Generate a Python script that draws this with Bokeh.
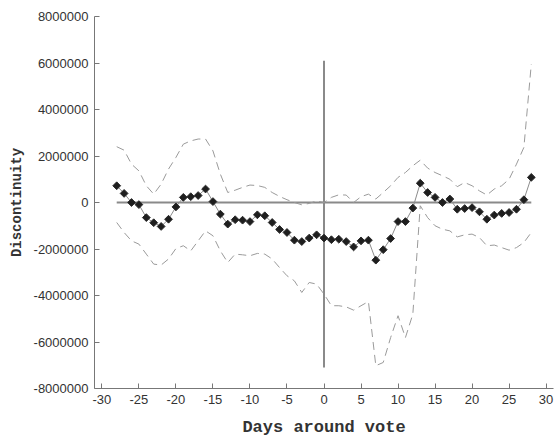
import math
from bokeh.plotting import figure
from bokeh.models import Range1d, FixedTicker, PrintfTickFormatter
from bokeh.embed import file_html
from bokeh.resources import INLINE

days = list(range(-28, 29))
estimate = [720000, 390000, 0, -90000, -650000, -870000, -1030000, -720000, -190000, 220000,
            250000, 300000, 580000, 40000, -500000, -930000, -740000, -760000, -820000, -530000,
            -570000, -860000, -1160000, -1290000, -1620000, -1680000, -1530000, -1390000,
            -1530000,
            -1600000, -1580000, -1680000, -1910000, -1650000, -1620000, -2480000, -2030000, -1550000, -820000,
            -820000, -240000, 830000, 430000, 220000, 0, 150000, -290000, -260000, -220000,
            -400000, -720000, -540000, -470000, -430000, -290000, 120000, 1080000]
upper = [2400000, 2250000, 1650000, 1360000, 720000, 360000, 790000, 1440000, 1940000, 2510000,
         2650000, 2730000, 2730000, 2220000, 1220000, 430000, 530000, 650000, 750000, 730000,
         650000, 430000, 260000, 120000, 0, -100000, -40000, 70000,
         0,
         220000, 330000, 320000, 0, 250000, 360000, 150000, 430000, 720000, 1080000,
         1290000, 1580000, 1820000, 1480000, 1290000, 1150000, 1000000, 680000, 860000, 720000,
         500000, 320000, 580000, 720000, 1000000, 1650000, 2370000, 5950000]
lower = [-860000, -1290000, -1650000, -1790000, -2220000, -2650000, -2690000, -2430000, -1980000, -1860000,
         -2080000, -1650000, -1220000, -1430000, -2080000, -2580000, -2220000, -2250000, -2290000, -2190000,
         -2220000, -2430000, -2800000, -3150000, -3370000, -3870000, -3440000, -3510000,
         -3940000,
         -4440000, -4440000, -4490000, -4630000, -4440000, -4260000, -7020000, -6880000, -5810000, -4870000,
         -5810000, -4800000, -140000, -650000, -1000000, -1150000, -1220000, -1480000, -1390000, -1360000,
         -1510000, -1860000, -1830000, -1940000, -2050000, -1940000, -1720000, -1290000]

zero_line_x = [-28, 28]
zero_line_y = [0, 0]
vote_line_x = [0, 0]
vote_line_y = [-7100000, 6100000]

x_ticks = [-30, -25, -20, -15, -10, -5, 0, 5, 10, 15, 20, 25, 30]
y_ticks = [-8000000, -6000000, -4000000, -2000000, 0, 2000000, 4000000, 6000000, 8000000]

x_title = "Days around vote"
y_title = "Discontinuity"

p = figure(frame_width=459, frame_height=372,
           x_range=Range1d(-31, 31), y_range=Range1d(-8000000, 8000000),
           output_backend="svg", toolbar_location=None,
           min_border_left=94, min_border_right=3, min_border_top=16, min_border_bottom=48)
p.xgrid.visible = False
p.ygrid.visible = False
p.outline_line_color = None
p.background_fill_color = "white"

p.line(zero_line_x, zero_line_y, line_color="#8a8a8a", line_width=2)
p.line(vote_line_x, vote_line_y, line_color="#8a8a8a", line_width=2)
p.line(days, upper, line_color="#9a9a9a", line_width=1, line_dash="8 5")
p.line(days, lower, line_color="#9a9a9a", line_width=1, line_dash="8 5")
p.line(days, estimate, line_color="#8c8c8c", line_width=1)
p.scatter(days, estimate, marker="square", angle=math.pi / 4, size=5.5,
          fill_color="#1e1e1e", line_color="#2a2a2a", line_width=1)

for ax in (p.xaxis[0], p.yaxis[0]):
    ax.axis_line_color = "#777777"
    ax.major_tick_line_color = "#777777"
    ax.major_tick_in = 5
    ax.major_tick_out = 0
    ax.minor_tick_line_color = None
    ax.major_label_text_font = "Liberation Sans"
    ax.major_label_text_font_size = "13px"
    ax.major_label_text_color = "#333333"
    ax.axis_label_text_font = "Liberation Mono"
    ax.axis_label_text_font_style = "bold"
    ax.axis_label_text_color = "#333333"

p.xaxis.major_label_standoff = 6
p.xaxis.axis_label_standoff = 11
p.yaxis.major_label_standoff = 6
p.yaxis.axis_label_standoff = 6

p.xaxis.ticker = FixedTicker(ticks=x_ticks)
p.yaxis.ticker = FixedTicker(ticks=y_ticks)
p.xaxis.formatter = PrintfTickFormatter(format="%d")
p.yaxis.formatter = PrintfTickFormatter(format="%d")
p.xaxis.axis_label = x_title
p.yaxis.axis_label = y_title
p.xaxis.axis_label_text_font_size = "17px"
p.yaxis.axis_label_text_font_size = "14px"

open("out.html", "w").write(file_html(p, INLINE))
